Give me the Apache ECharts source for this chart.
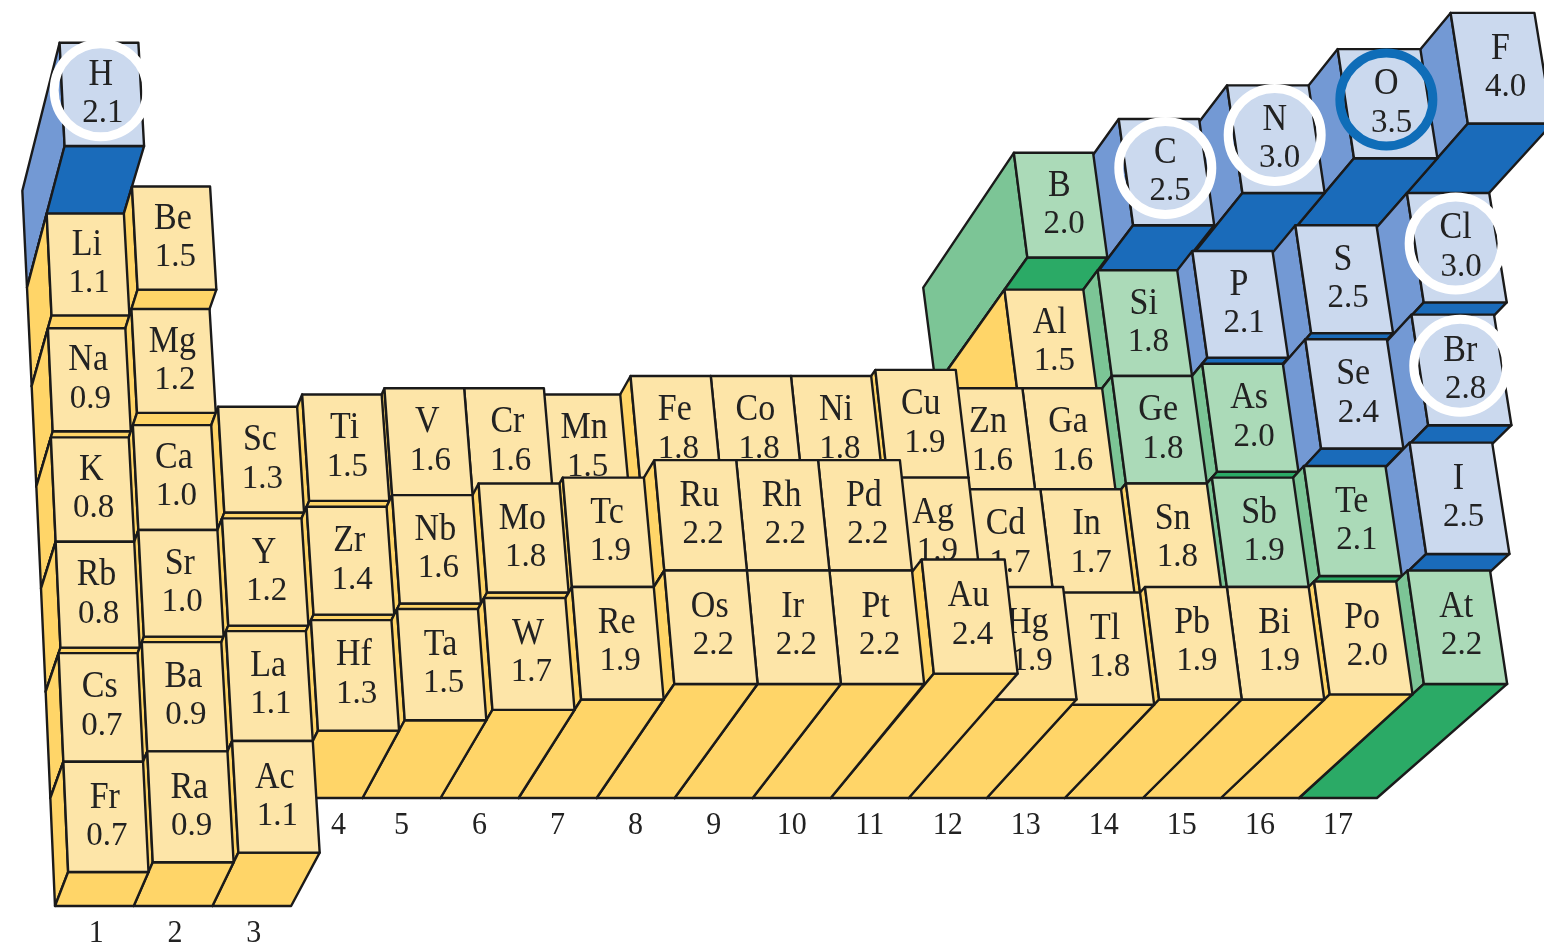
<!DOCTYPE html>
<html><head><meta charset="utf-8">
<style>html,body{margin:0;padding:0;background:#fff}#c{width:1544px;height:951px}</style>
<script src="https://cdn.jsdelivr.net/npm/echarts@6/dist/echarts.min.js"></script>
</head><body><div id="c"></div>
<script>
const symbols = ['H','Li','Be','B','C','N','O','F','Na','Mg','Al','Si','P','S','Cl',
 'K','Ca','Sc','Ti','V','Cr','Mn','Fe','Co','Ni','Cu','Zn','Ga','Ge','As','Se','Br',
 'Rb','Sr','Y','Zr','Nb','Mo','Tc','Ru','Rh','Pd','Ag','Cd','In','Sn','Sb','Te','I',
 'Cs','Ba','La','Hf','Ta','W','Re','Os','Ir','Pt','Au','Hg','Tl','Pb','Bi','Po','At',
 'Fr','Ra','Ac'];
const values = [2.1,1.1,1.5,2.0,2.5,3.0,3.5,4.0,0.9,1.2,1.5,1.8,2.1,2.5,3.0,
 0.8,1.0,1.3,1.5,1.6,1.6,1.5,1.8,1.8,1.8,1.9,1.6,1.6,1.8,2.0,2.4,2.8,
 0.8,1.0,1.2,1.4,1.6,1.8,1.9,2.2,2.2,2.2,1.9,1.7,1.7,1.8,1.9,2.1,2.5,
 0.7,0.9,1.1,1.3,1.5,1.7,1.9,2.2,2.2,2.2,2.4,1.9,1.8,1.9,1.9,2.0,2.2,
 0.7,0.9,1.1];
const groups = [1,1,2,13,14,15,16,17,1,2,13,14,15,16,17,
 1,2,3,4,5,6,7,8,9,10,11,12,13,14,15,16,17,
 1,2,3,4,5,6,7,8,9,10,11,12,13,14,15,16,17,
 1,2,3,4,5,6,7,8,9,10,11,12,13,14,15,16,17,
 1,2,3];
const periods = [1,2,2,2,2,2,2,2,3,3,3,3,3,3,3,
 4,4,4,4,4,4,4,4,4,4,4,4,4,4,4,4,4,
 5,5,5,5,5,5,5,5,5,5,5,5,5,5,5,5,5,
 6,6,6,6,6,6,6,6,6,6,6,6,6,6,6,6,6,
 7,7,7];
const blueElements = ['H','C','N','O','F','P','S','Se','Cl','Br','I'];
const greenElements = ['B','Si','Ge','As','Sb','Te','At'];
const whiteRinged = ['H','C','N','Cl','Br'];
const blueRinged = ['O'];
const groupLabels = ['1','2','3','4','5','6','7','8','9','10','11','12','13','14','15','16','17'];

const palette = {
  yellow:{face:'#FDE5A8',left:'#FFD568',front:'#FFD568'},
  green:{face:'#ABDAB8',left:'#7CC596',front:'#2BAA66'},
  blue:{face:'#CBD9EE',left:'#7399D4',front:'#1A6BBA'}
};
const LINE='#1a1a1a', INK='#222222', FONT='"Liberation Serif", serif';
const K=0.0306, VX=-427, VY=2492;

// table plane (group, period) -> pixel through the axes, then perspective + height
function project(api,g,p,v){
  const b=api.coord([g,p]);
  const d=6-p, u=Math.max(d,0);
  const x=b[0]-d*(5+0.67*(g-1));
  const y=b[1]+0.8*u*u+3*u;
  return [x+K*v*(x-VX)+4*v+6*Math.max(v-2.2,0), y+K*v*(y-VY)-5*Math.max(v-3,0)];
}
function kindOf(s){return blueElements.includes(s)?'blue':greenElements.includes(s)?'green':'yellow';}
function poly(points,fill){
  return {type:'polygon',shape:{points},style:{fill,stroke:LINE,lineWidth:2.4,lineJoin:'round'}};
}
function label(text,x,y,size,stretch){
  return {type:'text',x,y,scaleY:stretch,style:{text,x:0,y:0,fill:INK,font:size+'px '+FONT,align:'center',verticalAlign:'middle',textAlign:'center',textVerticalAlign:'middle'}};
}
const order = symbols.map((s,i)=>i).sort((a,b)=>periods[a]-periods[b]||groups[b]-groups[a]);
const blockData = order.map(i=>[groups[i],periods[i],values[i],symbols[i]]);
const ringData = symbols.map((s,i)=>[groups[i],periods[i],values[i],s]).filter(d=>whiteRinged.includes(d[3])||blueRinged.includes(d[3]));
const labelData = groupLabels.map((t,i)=>[i+1,i<3?7:6,t]);

function renderBlock(params,api){
  const g=api.value(0),p=api.value(1),v=api.value(2),s=blockData[params.dataIndex][3];
  const c=palette[kindOf(s)];
  const P=(dg,dp,h)=>project(api,g+dg,p+dp,h);
  const tl=P(-.5,-.5,v),tr=P(.5,-.5,v),br=P(.5,.5,v),bl=P(-.5,.5,v);
  const tl0=P(-.5,-.5,0),bl0=P(-.5,.5,0),br0=P(.5,.5,0);
  const ctr=P(0,0,v);
  return {type:'group',children:[
    poly([tl,bl,bl0,tl0],c.left),
    poly([bl,br,br0,bl0],c.front),
    poly([tl,tr,br,bl],c.face),
    label(s,ctr[0]-1,ctr[1]-19,34,1.1),
    label(v.toFixed(1),ctr[0]+1+0.2*g,ctr[1]+19,33,1.05)
  ]};
}
function renderRing(params,api){
  const d=ringData[params.dataIndex];
  const ctr=project(api,d[0],d[1],d[2]);
  return {type:'circle',shape:{cx:ctr[0]-1,cy:ctr[1]-4,r:46.5},
    style:{fill:'transparent',stroke:blueRinged.includes(d[3])?'#0F6DB8':'#ffffff',lineWidth:9}};
}
function renderLabel(params,api){
  const d=labelData[params.dataIndex];
  const b=project(api,d[0],d[1]+.5,0);
  return label(d[2],b[0]+(d[0]===4?15:d[0]<=3?2:0),b[1]+27,30,1.08);
}
const chart=echarts.init(document.getElementById('c'));
chart.setOption({
  animation:false,
  backgroundColor:'#fff',
  grid:{left:48,top:150,width:1320.9,height:756},
  xAxis:{type:'value',min:.5,max:17.5,show:false},
  yAxis:{type:'value',min:.5,max:7.5,inverse:true,show:false},
  series:[
    {type:'custom',coordinateSystem:'cartesian2d',clip:false,data:blockData.map(d=>d.slice(0,3)),renderItem:renderBlock,encode:{x:0,y:1},progressive:0,z:2},
    {type:'custom',coordinateSystem:'cartesian2d',clip:false,data:labelData.map(d=>d.slice(0,2)),renderItem:renderLabel,encode:{x:0,y:1},z:3},
    {type:'custom',coordinateSystem:'cartesian2d',clip:false,data:ringData.map(d=>d.slice(0,3)),renderItem:renderRing,encode:{x:0,y:1},z:4}
  ]
});
</script></body></html>
